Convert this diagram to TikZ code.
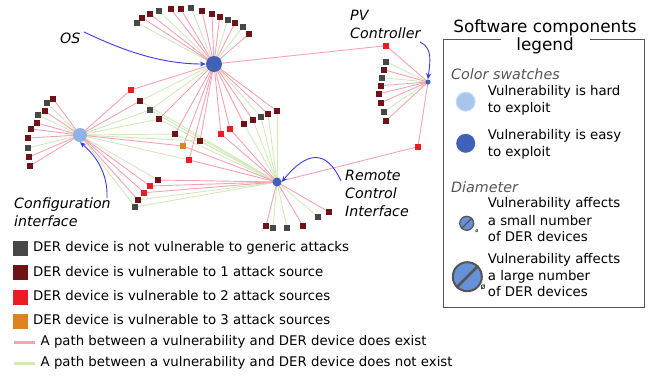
\documentclass[tikz,border=0pt]{standalone}
\usepackage{fontspec}
\setmainfont{DejaVu Sans}
\usetikzlibrary{arrows.meta}
\definecolor{cgray}{HTML}{474747}
\definecolor{cdred}{HTML}{6E1419}
\definecolor{cred}{HTML}{EC1C24}
\definecolor{corange}{HTML}{DF8320}
\definecolor{cpink}{HTML}{F5A3B3}
\definecolor{cgreen}{HTML}{D2EABB}
\definecolor{cdblue}{HTML}{4061B8}
\definecolor{clblue}{HTML}{8FB3E6}
\definecolor{cswatch}{HTML}{A9C5EC}
\definecolor{cswatchb}{HTML}{C2E0FA}
\definecolor{cmid}{HTML}{6690D8}
\definecolor{cring}{HTML}{555555}
\definecolor{carrow}{HTML}{3A3AF5}
\definecolor{cital}{HTML}{555555}
\pgfdeclarelayer{bg}
\pgfsetlayers{bg,main}
\begin{document}
\begin{tikzpicture}[x=1pt,y=-1pt,
  dev/.style={rectangle,minimum size=6pt,inner sep=0pt},
  hub/.style={circle,inner sep=0pt,fill=cdblue},
  edge/.style={line width=0.9pt},
  callout/.style={draw=carrow,line width=0.9pt,-{Stealth[length=6pt,width=5pt]}},
  lab/.style={font=\fontsize{14.2}{18}\selectfont\itshape,anchor=west,inner sep=0pt,align=left},
  lt/.style={anchor=west,inner sep=0pt,text height=9.8pt,text depth=2.9pt,font=\fontsize{13.3}{15}\selectfont},
  bt/.style={anchor=west,inner sep=0pt,text height=9.8pt,text depth=2.9pt,font=\fontsize{13.3}{15}\selectfont},
  hd/.style={font=\fontsize{14.3}{16}\selectfont\itshape,text=cital,anchor=west,inner sep=0pt},
  sw/.style={rectangle,minimum size=15pt,inner sep=0pt}]
\useasboundingbox (0,0) rectangle (653,376);

% hubs
\node[hub,minimum size=16pt] (os) at (214,64) {};
\node[hub,fill=clblue,minimum size=14pt] (cf) at (80,135) {};
\node[hub,minimum size=9pt] (rc) at (277,182) {};
\node[hub,minimum size=5pt] (pv) at (428,82) {};

% devices
\foreach \n/\x/\y/\c in {
 o1/137/22.7/cgray, o2/142/17.7/cdred, o3/150/14/cdred, o4/159/11/cgray, o5/170.7/9/cdred,
 o6/180.7/9/cdred, o7/191/8/cgray, o8/202/11/cdred, o9/212/14/cdred, o10/219.7/17/cdred,
 o11/227.7/20/cgray, o12/235/23/cdred, o13/243/26.7/cgray, o14/249/34/cdred,
 m1/130.7/90/cred, m2/140/101/cdred, m3/150/110/cgray, m4/159/119/cdred, m5/175/134/cdred,
 m6/183/146/corange, m7/200/141/cdred, m8/189/160/cred, m9/221/134/cred, m10/230/129/cred,
 m11/244/124/cdred, m12/253/120/cdred, m13/261/117/cgray, m14/268/114/cdred, m15/277/111/cdred,
 c1/53/98.7/cdred, c2/47/103/cgray, c3/44.7/111/cdred, c4/38/115/cgray, c5/37/123/cdred,
 c6/31/129/cdred, c7/28/138/cdred, c8/28/148/cgray, c9/29/157/cdred, c10/30/166/cdred,
 l1/158/180/cdred, l2/150/186/cred, l3/144/192.7/cred, l4/138/200/cdred, l5/135/207/cgray,
 b1/266/226/cdred, b2/273/228/cgray, b3/287/228/cgray, b4/303/226/cdred, b5/318/217/cgray, b6/329/212/cdred,
 p0/386/45.7/cred, p1/386/61.7/cgray, p2/383.7/69.7/cdred, p3/382/77.7/cgray, p4/380.7/85.7/cdred,
 p5/379/93.7/cdred, p6/381/102.7/cdred, p7/384/111.7/cgray, p8/386/120.7/cdred, p9/418/146.7/cred}
 \node[dev,fill=\c] (\n) at (\x,\y) {};

% edges
\begin{pgfonlayer}{bg}
\foreach \a/\b in {os/o1,os/o4,os/o7,os/o11,os/o13,os/m2,os/m3,os/m13,
  cf/c2,cf/c4,cf/c8,cf/m3,cf/m4,cf/m5,cf/m7,cf/m8,cf/l1,cf/l5,
  rc/l4,rc/l5,rc/b2,rc/b3,rc/b5,rc/m2,rc/m3,rc/m4,rc/m5,rc/m7,rc/m11,rc/m12,rc/m13,rc/m14,rc/m15,
  pv/p1,pv/p3,pv/p7}
  \draw[edge,draw=cgreen] (\a.center) -- (\b.center);
\foreach \a/\b in {os/o2,os/o3,os/o5,os/o6,os/o8,os/o9,os/o10,os/o12,os/o14,
  os/m1,os/m4,os/m5,os/m6,os/m7,os/m8,os/m9,os/m10,os/m11,os/m12,os/m14,os/m15,os/p0,
  cf/c1,cf/c3,cf/c5,cf/c6,cf/c7,cf/c9,cf/c10,cf/m1,cf/m2,cf/m6,cf/l2,cf/l3,cf/l4,
  rc/l1,rc/l2,rc/l3,rc/b1,rc/b4,rc/b6,rc/p9,rc/m6,rc/m8,rc/m9,rc/m10,
  pv/p0,pv/p2,pv/p4,pv/p5,pv/p6,pv/p8,pv/p9}
  \draw[edge,draw=cpink] (\a.center) -- (\b.center);
\end{pgfonlayer}

% callout labels
\node[lab] (osl) at (60,38) {OS};
\node[lab] (pvl) at (350,24) {PV\\Controller};
\node[lab] (cfl) at (14,212) {Configuration\\interface};
\node[lab] (rcl) at (345,193) {Remote\\Control\\Interface};
\coordinate (osa) at (84,32);
\coordinate (pva) at (420,42);
\coordinate (cfa) at (107,198);
\coordinate (rca) at (341,181);
\draw[callout] (osa) .. controls (122,50) and (160,64) .. (os.west);
\draw[callout] (pva) .. controls (433,48) and (430,62) .. (pv.north);
\draw[callout] (cfa) .. controls (108,172) and (95,155) .. (cf.south);
\draw[callout] (rca) .. controls (326,148) and (306,152) .. (rc.east);

% bottom legend
\node[sw,fill=cgray] (s1) at (20.8,248.8) {};
\node[sw,fill=cdred] (s2) at (20.8,272.8) {};
\node[sw,fill=cred] (s3) at (20.8,297) {};
\node[sw,fill=corange] (s4) at (20.8,321) {};
\node[bt] (t1) at (33,248.5) {DER device is not vulnerable to generic attacks};
\node[bt] (t2) at (33,273) {DER device is vulnerable to 1 attack source};
\node[bt] (t3) at (33,297.5) {DER device is vulnerable to 2 attack sources};
\node[bt] (t4) at (33,321.5) {DER device is vulnerable to 3 attack sources};
\coordinate (pk1) at (14.3,342.7); \coordinate (pk2) at (35,342.7);
\coordinate (gn1) at (14.3,363.3); \coordinate (gn2) at (35,363.3);
\draw[line width=3pt,draw=cpink] (pk1) -- (pk2);
\draw[line width=3pt,draw=cgreen] (gn1) -- (gn2);
\node[bt] (t5) at (40.5,342.5) {A path between a vulnerability and DER device does exist};
\node[bt] (t6) at (40.5,363) {A path between a vulnerability and DER device does not exist};

% software components legend
\draw[draw=cring,line width=1pt] (501,39) -- (443,39) -- (443,307) -- (644,307) -- (644,39) -- (590,39);
\node[font=\fontsize{16.8}{18}\selectfont,inner sep=0pt] (lg1) at (545,28) {Software components};
\node[font=\fontsize{16.8}{18}\selectfont,inner sep=0pt] (lg2) at (545,46) {legend};
\node[hd] (cs) at (451,74) {Color swatches};
\node[circle,fill=cswatch,draw=cswatchb,line width=1pt,minimum size=19pt,inner sep=0pt] (sw1) at (465.7,101.7) {};
\node[circle,fill=cdblue,minimum size=19pt,inner sep=0pt] (sw2) at (465.7,143.3) {};
\node[lt] at (487.7,92) {Vulnerability is hard};
\node[lt] at (487.7,108.7) {to exploit};
\node[lt] at (487.7,136) {Vulnerability is easy};
\node[lt] at (487.7,152.7) {to exploit};
\node[hd] (dm) at (451,187) {Diameter};
\node[circle,fill=cmid,draw=cring,line width=1.2pt,minimum size=14pt,inner sep=0pt] (d1) at (466.7,223.3) {};
\draw[draw=cring,line width=1.2pt] (d1.225) -- (d1.45);
\node[font=\fontsize{5}{6}\selectfont,inner sep=0pt] (d1o) at (477,231) {ø};
\node[circle,fill=cmid,draw=cring,line width=2pt,minimum size=29pt,inner sep=0pt] (d2) at (467.3,276.7) {};
\draw[draw=cring,line width=2.5pt] (d2.225) -- (d2.45);
\node[font=\fontsize{8}{9}\selectfont,inner sep=0pt] (d2o) at (483,287) {ø};
\node[lt] at (487.7,204.3) {Vulnerability affects};
\node[lt] at (487.7,221.7) {a small number};
\node[lt] at (487.7,238.5) {of DER devices};
\node[lt] at (487.7,260) {Vulnerability affects};
\node[lt] at (487.7,276.7) {a large number};
\node[lt] at (487.7,293.5) {of DER devices};
\end{tikzpicture}
\end{document}
